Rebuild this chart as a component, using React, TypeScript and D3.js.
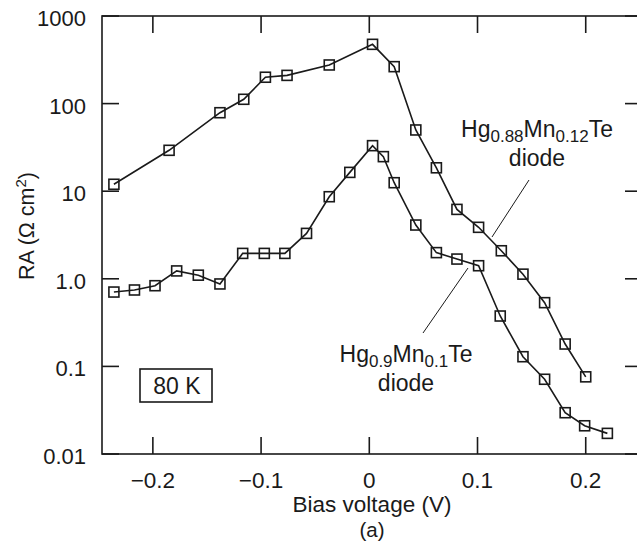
import React from "react";
import * as d3 from "d3";

const biasUpper = [-0.236, -0.185, -0.138, -0.116, -0.096, -0.076, -0.037, 0.003, 0.023, 0.043, 0.062, 0.081, 0.101, 0.122, 0.142, 0.162, 0.181, 0.2];
const raUpper = [12.0, 29.3, 78.7, 112, 200, 210, 276, 475, 264, 50, 18.5, 6.2, 3.87, 2.09, 1.13, 0.534, 0.18, 0.076];

const biasLower = [-0.236, -0.217, -0.198, -0.178, -0.158, -0.138, -0.117, -0.097, -0.078, -0.058, -0.037, -0.018, 0.003, 0.013, 0.023, 0.043, 0.062, 0.081, 0.101, 0.121, 0.142, 0.162, 0.181, 0.199, 0.22];
const raLower = [0.706, 0.745, 0.834, 1.23, 1.1, 0.873, 1.95, 1.95, 1.95, 3.3, 8.65, 16.4, 33.1, 24.8, 12.5, 4.11, 1.99, 1.68, 1.41, 0.376, 0.129, 0.0713, 0.0296, 0.021, 0.0172];

const xTicks = [-0.2, -0.1, 0, 0.1, 0.2];
const xTickLabels = ["\u22120.2", "\u22120.1", "0", "0.1", "0.2"];
const yTicks = [0.01, 0.1, 1, 10, 100, 1000];
const yTickLabels = ["0.01", "0.1", "1.0", "10", "100", "1000"];

const FONT = "'Liberation Sans', Arial, Helvetica, sans-serif";

export default function App() {
  const left = 102, right = 642, top = 16, bottom = 454;
  const x = d3.scaleLinear().domain([-0.247, 0.252]).range([left, right]);
  const y = d3.scaleLog().domain([0.01, 1000]).range([bottom, top]);
  const line = d3.line<[number, number]>().x(d => x(d[0])).y(d => y(d[1]));
  const upper: [number, number][] = biasUpper.map((b, i) => [b, raUpper[i]]);
  const lower: [number, number][] = biasLower.map((b, i) => [b, raLower[i]]);
  const tl = 17;
  const ink = "#1a1a1a";
  const sq = 10;

  const markers = (pts: [number, number][], key: string) =>
    pts.map((p, i) => (
      <rect key={key + i} x={x(p[0]) - sq / 2} y={y(p[1]) - sq / 2} width={sq} height={sq}
        fill="none" stroke={ink} strokeWidth={1.6} />
    ));

  return (
    <svg width={637} height={542} style={{ position: "absolute", left: 0, top: 0, background: "#fff" }}
      fontFamily={FONT}>
      <rect x={0} y={0} width={637} height={542} fill="#fff" />
      {/* frame */}
      <rect x={left} y={top} width={right - left} height={bottom - top} fill="none" stroke={ink} strokeWidth={1.6} />
      {/* x ticks */}
      {xTicks.map((t, i) => (
        <g key={"xt" + i}>
          <line x1={x(t)} x2={x(t)} y1={bottom} y2={bottom - tl} stroke={ink} strokeWidth={1.6} />
          <line x1={x(t)} x2={x(t)} y1={top} y2={top + tl} stroke={ink} strokeWidth={1.6} />
          <text x={x(t)} y={488} textAnchor="middle" fontSize={22.5} fill={ink}>{xTickLabels[i]}</text>
        </g>
      ))}
      {/* y ticks */}
      {yTicks.map((t, i) => (
        <g key={"yt" + i}>
          <line x1={left} x2={left + tl} y1={y(t)} y2={y(t)} stroke={ink} strokeWidth={1.6} />
          <line x1={right} x2={right - tl} y1={y(t)} y2={y(t)} stroke={ink} strokeWidth={1.6} />
          <text x={86} y={y(t) + 10} textAnchor="end" fontSize={22} fill={ink}>{yTickLabels[i]}</text>
        </g>
      ))}
      {/* axis labels */}
      <text transform="translate(34,226) rotate(-90)" textAnchor="middle" fontSize={21.5} fill={ink}>
        RA (Ω cm<tspan dy={-8} fontSize={15}>2</tspan><tspan dy={8}>)</tspan>
      </text>
      <text x={372} y={512} textAnchor="middle" fontSize={22.5} fill={ink}>Bias voltage (V)</text>
      <text x={372} y={537} textAnchor="middle" fontSize={20.5} fill={ink}>(a)</text>

      {/* series */}
      <path d={line(upper) || ""} fill="none" stroke={ink} strokeWidth={1.6} />
      <path d={line(lower) || ""} fill="none" stroke={ink} strokeWidth={1.6} />
      {markers(upper, "u")}
      {markers(lower, "l")}

      {/* annotations */}
      <text x={537} y={137} textAnchor="middle" fontSize={23} fill={ink}>
        Hg<tspan dy={5} fontSize={17}>0.88</tspan><tspan dy={-5}>Mn</tspan><tspan dy={5} fontSize={17}>0.12</tspan><tspan dy={-5}>Te</tspan>
      </text>
      <text x={537} y={166} textAnchor="middle" fontSize={23} fill={ink}>diode</text>
      <line x1={529} y1={180} x2={492} y2={237} stroke={ink} strokeWidth={1} />

      <text x={406} y={362} textAnchor="middle" fontSize={23} fill={ink}>
        Hg<tspan dy={5} fontSize={17}>0.9</tspan><tspan dy={-5}>Mn</tspan><tspan dy={5} fontSize={17}>0.1</tspan><tspan dy={-5}>Te</tspan>
      </text>
      <text x={406} y={391} textAnchor="middle" fontSize={23} fill={ink}>diode</text>
      <line x1={423} y1={333} x2={468} y2={268} stroke={ink} strokeWidth={1} />

      <rect x={140} y={369} width={72} height={33} fill="none" stroke={ink} strokeWidth={1.6} />
      <text x={177} y={394} textAnchor="middle" fontSize={23} fill={ink}>80 K</text>
    </svg>
  );
}
